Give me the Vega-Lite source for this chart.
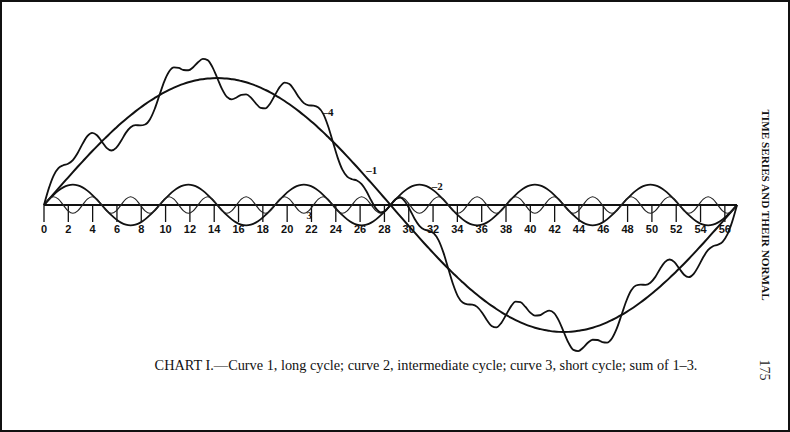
{
  "$schema": "https://vega.github.io/schema/vega-lite/v6.json",
  "width": 790,
  "height": 432,
  "autosize": {"type": "none"},
  "padding": 0,
  "background": "white",
  "config": {"view": {"stroke": "#111", "strokeWidth": 4}},
  "datasets": {
    "curves": [
      {"x":0,"c1":0,"c2":0,"c3":0,"s":0},
      {"x":0.396,"c1":4.4,"c2":4.14,"c3":4.6,"s":13.1},
      {"x":0.792,"c1":8.7,"c2":8,"c3":6.5,"s":23.2},
      {"x":1.188,"c1":13.1,"c2":11.31,"c3":4.6,"s":29.0},
      {"x":1.583,"c1":17.4,"c2":13.86,"c3":0,"s":31.3},
      {"x":1.979,"c1":21.6,"c2":15.45,"c3":-4.6,"s":32.5},
      {"x":2.375,"c1":25.9,"c2":16,"c3":-6.5,"s":35.4},
      {"x":2.771,"c1":30.1,"c2":15.45,"c3":-4.6,"s":41.0},
      {"x":3.167,"c1":34.2,"c2":13.86,"c3":0,"s":48.1},
      {"x":3.563,"c1":38.3,"c2":11.31,"c3":4.6,"s":54.2},
      {"x":3.958,"c1":42.3,"c2":8,"c3":6.5,"s":56.8},
      {"x":4.354,"c1":46.2,"c2":4.14,"c3":4.6,"s":54.9},
      {"x":4.75,"c1":50,"c2":0,"c3":0,"s":50},
      {"x":5.146,"c1":53.7,"c2":-4.14,"c3":-4.6,"s":45.0},
      {"x":5.542,"c1":57.4,"c2":-8,"c3":-6.5,"s":42.9},
      {"x":5.938,"c1":60.9,"c2":-11.31,"c3":-4.6,"s":45.0},
      {"x":6.333,"c1":64.3,"c2":-13.86,"c3":0,"s":50.4},
      {"x":6.729,"c1":67.6,"c2":-15.45,"c3":4.6,"s":56.8},
      {"x":7.125,"c1":70.7,"c2":-16,"c3":6.5,"s":61.2},
      {"x":7.521,"c1":73.7,"c2":-15.45,"c3":4.6,"s":62.9},
      {"x":7.917,"c1":76.6,"c2":-13.86,"c3":0,"s":62.7},
      {"x":8.313,"c1":79.3,"c2":-11.31,"c3":-4.6,"s":63.4},
      {"x":8.708,"c1":81.9,"c2":-8,"c3":-6.5,"s":67.4},
      {"x":9.104,"c1":84.3,"c2":-4.14,"c3":-4.6,"s":75.6},
      {"x":9.5,"c1":86.6,"c2":0,"c3":0,"s":86.6},
      {"x":9.896,"c1":88.7,"c2":4.14,"c3":4.6,"s":97.4},
      {"x":10.292,"c1":90.6,"c2":8,"c3":6.5,"s":105.1},
      {"x":10.688,"c1":92.4,"c2":11.31,"c3":4.6,"s":108.3},
      {"x":11.083,"c1":94.0,"c2":13.86,"c3":0,"s":107.9},
      {"x":11.479,"c1":95.4,"c2":15.45,"c3":-4.6,"s":106.3},
      {"x":11.875,"c1":96.6,"c2":16,"c3":-6.5,"s":106.1},
      {"x":12.271,"c1":97.6,"c2":15.45,"c3":-4.6,"s":108.5},
      {"x":12.667,"c1":98.5,"c2":13.86,"c3":0,"s":112.4},
      {"x":13.063,"c1":99.1,"c2":11.31,"c3":4.6,"s":115.0},
      {"x":13.458,"c1":99.6,"c2":8,"c3":6.5,"s":114.1},
      {"x":13.854,"c1":99.9,"c2":4.14,"c3":4.6,"s":108.6},
      {"x":14.25,"c1":100,"c2":0,"c3":0,"s":100},
      {"x":14.646,"c1":99.9,"c2":-4.14,"c3":-4.6,"s":91.2},
      {"x":15.042,"c1":99.6,"c2":-8,"c3":-6.5,"s":85.1},
      {"x":15.438,"c1":99.1,"c2":-11.31,"c3":-4.6,"s":83.2},
      {"x":15.833,"c1":98.5,"c2":-13.86,"c3":0,"s":84.6},
      {"x":16.229,"c1":97.6,"c2":-15.45,"c3":4.6,"s":86.8},
      {"x":16.625,"c1":96.6,"c2":-16,"c3":6.5,"s":87.1},
      {"x":17.021,"c1":95.4,"c2":-15.45,"c3":4.6,"s":84.6},
      {"x":17.417,"c1":94.0,"c2":-13.86,"c3":0,"s":80.1},
      {"x":17.813,"c1":92.4,"c2":-11.31,"c3":-4.6,"s":76.5},
      {"x":18.208,"c1":90.6,"c2":-8,"c3":-6.5,"s":76.1},
      {"x":18.604,"c1":88.7,"c2":-4.14,"c3":-4.6,"s":80.0},
      {"x":19,"c1":86.6,"c2":0,"c3":0,"s":86.6},
      {"x":19.396,"c1":84.3,"c2":4.14,"c3":4.6,"s":93.0},
      {"x":19.792,"c1":81.9,"c2":8,"c3":6.5,"s":96.4},
      {"x":20.188,"c1":79.3,"c2":11.31,"c3":4.6,"s":95.2},
      {"x":20.583,"c1":76.6,"c2":13.86,"c3":0,"s":90.5},
      {"x":20.979,"c1":73.7,"c2":15.45,"c3":-4.6,"s":84.6},
      {"x":21.375,"c1":70.7,"c2":16,"c3":-6.5,"s":80.2},
      {"x":21.771,"c1":67.6,"c2":15.45,"c3":-4.6,"s":78.5},
      {"x":22.167,"c1":64.3,"c2":13.86,"c3":0,"s":78.2},
      {"x":22.563,"c1":60.9,"c2":11.31,"c3":4.6,"s":76.8},
      {"x":22.958,"c1":57.4,"c2":8,"c3":6.5,"s":71.9},
      {"x":23.354,"c1":53.7,"c2":4.14,"c3":4.6,"s":62.4},
      {"x":23.75,"c1":50,"c2":0,"c3":0,"s":50},
      {"x":24.146,"c1":46.2,"c2":-4.14,"c3":-4.6,"s":37.5},
      {"x":24.542,"c1":42.3,"c2":-8,"c3":-6.5,"s":27.8},
      {"x":24.938,"c1":38.3,"c2":-11.31,"c3":-4.6,"s":22.4},
      {"x":25.333,"c1":34.2,"c2":-13.86,"c3":0,"s":20.3},
      {"x":25.729,"c1":30.1,"c2":-15.45,"c3":4.6,"s":19.3},
      {"x":26.125,"c1":25.9,"c2":-16,"c3":6.5,"s":16.4},
      {"x":26.521,"c1":21.6,"c2":-15.45,"c3":4.6,"s":10.8},
      {"x":26.917,"c1":17.4,"c2":-13.86,"c3":0,"s":3.5},
      {"x":27.313,"c1":13.1,"c2":-11.31,"c3":-4.6,"s":-2.8},
      {"x":27.708,"c1":8.7,"c2":-8,"c3":-6.5,"s":-5.8},
      {"x":28.104,"c1":4.4,"c2":-4.14,"c3":-4.6,"s":-4.3},
      {"x":28.5,"c1":0,"c2":0,"c3":0,"s":0},
      {"x":28.896,"c1":-4.4,"c2":4.14,"c3":4.6,"s":4.3},
      {"x":29.292,"c1":-8.7,"c2":8,"c3":6.5,"s":5.8},
      {"x":29.688,"c1":-13.1,"c2":11.31,"c3":4.6,"s":2.8},
      {"x":30.083,"c1":-17.4,"c2":13.86,"c3":0,"s":-3.5},
      {"x":30.479,"c1":-21.6,"c2":15.45,"c3":-4.6,"s":-10.8},
      {"x":30.875,"c1":-25.9,"c2":16,"c3":-6.5,"s":-16.4},
      {"x":31.271,"c1":-30.1,"c2":15.45,"c3":-4.6,"s":-19.3},
      {"x":31.667,"c1":-34.2,"c2":13.86,"c3":0,"s":-20.3},
      {"x":32.063,"c1":-38.3,"c2":11.31,"c3":4.6,"s":-22.4},
      {"x":32.458,"c1":-42.3,"c2":8,"c3":6.5,"s":-27.8},
      {"x":32.854,"c1":-46.2,"c2":4.14,"c3":4.6,"s":-37.5},
      {"x":33.25,"c1":-50,"c2":0,"c3":0,"s":-50},
      {"x":33.646,"c1":-53.7,"c2":-4.14,"c3":-4.6,"s":-62.4},
      {"x":34.042,"c1":-57.4,"c2":-8,"c3":-6.5,"s":-71.9},
      {"x":34.438,"c1":-60.9,"c2":-11.31,"c3":-4.6,"s":-76.8},
      {"x":34.833,"c1":-64.3,"c2":-13.86,"c3":0,"s":-78.2},
      {"x":35.229,"c1":-67.6,"c2":-15.45,"c3":4.6,"s":-78.5},
      {"x":35.625,"c1":-70.7,"c2":-16,"c3":6.5,"s":-80.2},
      {"x":36.021,"c1":-73.7,"c2":-15.45,"c3":4.6,"s":-84.6},
      {"x":36.417,"c1":-76.6,"c2":-13.86,"c3":0,"s":-90.5},
      {"x":36.813,"c1":-79.3,"c2":-11.31,"c3":-4.6,"s":-95.2},
      {"x":37.208,"c1":-81.9,"c2":-8,"c3":-6.5,"s":-96.4},
      {"x":37.604,"c1":-84.3,"c2":-4.14,"c3":-4.6,"s":-93.0},
      {"x":38,"c1":-86.6,"c2":0,"c3":0,"s":-86.6},
      {"x":38.396,"c1":-88.7,"c2":4.14,"c3":4.6,"s":-80.0},
      {"x":38.792,"c1":-90.6,"c2":8,"c3":6.5,"s":-76.1},
      {"x":39.188,"c1":-92.4,"c2":11.31,"c3":4.6,"s":-76.5},
      {"x":39.583,"c1":-94.0,"c2":13.86,"c3":0,"s":-80.1},
      {"x":39.979,"c1":-95.4,"c2":15.45,"c3":-4.6,"s":-84.6},
      {"x":40.375,"c1":-96.6,"c2":16,"c3":-6.5,"s":-87.1},
      {"x":40.771,"c1":-97.6,"c2":15.45,"c3":-4.6,"s":-86.8},
      {"x":41.167,"c1":-98.5,"c2":13.86,"c3":0,"s":-84.6},
      {"x":41.563,"c1":-99.1,"c2":11.31,"c3":4.6,"s":-83.2},
      {"x":41.958,"c1":-99.6,"c2":8,"c3":6.5,"s":-85.1},
      {"x":42.354,"c1":-99.9,"c2":4.14,"c3":4.6,"s":-91.2},
      {"x":42.75,"c1":-100,"c2":0,"c3":0,"s":-100},
      {"x":43.146,"c1":-99.9,"c2":-4.14,"c3":-4.6,"s":-108.6},
      {"x":43.542,"c1":-99.6,"c2":-8,"c3":-6.5,"s":-114.1},
      {"x":43.938,"c1":-99.1,"c2":-11.31,"c3":-4.6,"s":-115.0},
      {"x":44.333,"c1":-98.5,"c2":-13.86,"c3":0,"s":-112.4},
      {"x":44.729,"c1":-97.6,"c2":-15.45,"c3":4.6,"s":-108.5},
      {"x":45.125,"c1":-96.6,"c2":-16,"c3":6.5,"s":-106.1},
      {"x":45.521,"c1":-95.4,"c2":-15.45,"c3":4.6,"s":-106.3},
      {"x":45.917,"c1":-94.0,"c2":-13.86,"c3":0,"s":-107.9},
      {"x":46.313,"c1":-92.4,"c2":-11.31,"c3":-4.6,"s":-108.3},
      {"x":46.708,"c1":-90.6,"c2":-8,"c3":-6.5,"s":-105.1},
      {"x":47.104,"c1":-88.7,"c2":-4.14,"c3":-4.6,"s":-97.4},
      {"x":47.5,"c1":-86.6,"c2":0,"c3":0,"s":-86.6},
      {"x":47.896,"c1":-84.3,"c2":4.14,"c3":4.6,"s":-75.6},
      {"x":48.292,"c1":-81.9,"c2":8,"c3":6.5,"s":-67.4},
      {"x":48.688,"c1":-79.3,"c2":11.31,"c3":4.6,"s":-63.4},
      {"x":49.083,"c1":-76.6,"c2":13.86,"c3":0,"s":-62.7},
      {"x":49.479,"c1":-73.7,"c2":15.45,"c3":-4.6,"s":-62.9},
      {"x":49.875,"c1":-70.7,"c2":16,"c3":-6.5,"s":-61.2},
      {"x":50.271,"c1":-67.6,"c2":15.45,"c3":-4.6,"s":-56.8},
      {"x":50.667,"c1":-64.3,"c2":13.86,"c3":0,"s":-50.4},
      {"x":51.063,"c1":-60.9,"c2":11.31,"c3":4.6,"s":-45.0},
      {"x":51.458,"c1":-57.4,"c2":8,"c3":6.5,"s":-42.9},
      {"x":51.854,"c1":-53.7,"c2":4.14,"c3":4.6,"s":-45.0},
      {"x":52.25,"c1":-50,"c2":0,"c3":0,"s":-50},
      {"x":52.646,"c1":-46.2,"c2":-4.14,"c3":-4.6,"s":-54.9},
      {"x":53.042,"c1":-42.3,"c2":-8,"c3":-6.5,"s":-56.8},
      {"x":53.438,"c1":-38.3,"c2":-11.31,"c3":-4.6,"s":-54.2},
      {"x":53.833,"c1":-34.2,"c2":-13.86,"c3":0,"s":-48.1},
      {"x":54.229,"c1":-30.1,"c2":-15.45,"c3":4.6,"s":-41.0},
      {"x":54.625,"c1":-25.9,"c2":-16,"c3":6.5,"s":-35.4},
      {"x":55.021,"c1":-21.6,"c2":-15.45,"c3":4.6,"s":-32.5},
      {"x":55.417,"c1":-17.4,"c2":-13.86,"c3":0,"s":-31.3},
      {"x":55.813,"c1":-13.1,"c2":-11.31,"c3":-4.6,"s":-29.0},
      {"x":56.208,"c1":-8.7,"c2":-8,"c3":-6.5,"s":-23.2},
      {"x":56.604,"c1":-4.4,"c2":-4.14,"c3":-4.6,"s":-13.1},
      {"x":57,"c1":0,"c2":0,"c3":0,"s":0}
    ],
    "ticks": [
      {"t":0},{"t":2},{"t":4},{"t":6},{"t":8},{"t":10},{"t":12},{"t":14},{"t":16},{"t":18},
      {"t":20},{"t":22},{"t":24},{"t":26},{"t":28},{"t":30},{"t":32},{"t":34},{"t":36},{"t":38},
      {"t":40},{"t":42},{"t":44},{"t":46},{"t":48},{"t":50},{"t":52},{"t":54},{"t":56}
    ],
    "labels": [
      {"lab":"–1","lx":26.5,"ly":26.8},
      {"lab":"–2","lx":31.9,"ly":14.2},
      {"lab":"3","lx":21.6,"ly":-8.7},
      {"lab":"–4","lx":22.9,"ly":72.4}
    ]
  },
  "layer": [
    {
      "data": {"name": "ticks"},
      "mark": {"type": "rule", "color": "#111", "strokeWidth": 1.3},
      "encoding": {
        "x": {"field": "t", "type": "quantitative", "scale": {"domain": [-3.619, 61.358], "nice": false, "zero": false}, "axis": null},
        "y": {"datum": 0, "type": "quantitative", "scale": {"domain": [-178.74, 161.42], "nice": false, "zero": false}, "axis": null},
        "y2": {"datum": -13.4}
      }
    },
    {
      "data": {"name": "ticks"},
      "mark": {"type": "text", "font": "Liberation Sans", "fontWeight": "bold", "fontSize": 11, "color": "#111", "align": "center", "baseline": "top"},
      "encoding": {
        "x": {"field": "t", "type": "quantitative", "scale": {"domain": [-3.619, 61.358], "nice": false, "zero": false}, "axis": null},
        "y": {"datum": -14.6, "type": "quantitative", "scale": {"domain": [-178.74, 161.42], "nice": false, "zero": false}, "axis": null},
        "text": {"field": "t", "type": "quantitative"}
      }
    },
    {
      "data": {"values": [{}]},
      "mark": {"type": "rule", "color": "#111", "strokeWidth": 2},
      "encoding": {
        "x": {"datum": 0, "type": "quantitative", "scale": {"domain": [-3.619, 61.358], "nice": false, "zero": false}, "axis": null},
        "x2": {"datum": 57},
        "y": {"datum": 0, "type": "quantitative", "scale": {"domain": [-178.74, 161.42], "nice": false, "zero": false}, "axis": null}
      }
    },
    {
      "data": {"name": "curves"},
      "mark": {"type": "line", "color": "#111", "strokeWidth": 2, "interpolate": "monotone"},
      "encoding": {
        "x": {"field": "x", "type": "quantitative", "scale": {"domain": [-3.619, 61.358], "nice": false, "zero": false}, "axis": null},
        "y": {"field": "c1", "type": "quantitative", "scale": {"domain": [-178.74, 161.42], "nice": false, "zero": false}, "axis": null}
      }
    },
    {
      "data": {"name": "curves"},
      "mark": {"type": "line", "color": "#111", "strokeWidth": 1.8, "interpolate": "monotone"},
      "encoding": {
        "x": {"field": "x", "type": "quantitative", "scale": {"domain": [-3.619, 61.358], "nice": false, "zero": false}, "axis": null},
        "y": {"field": "c2", "type": "quantitative", "scale": {"domain": [-178.74, 161.42], "nice": false, "zero": false}, "axis": null}
      }
    },
    {
      "data": {"name": "curves"},
      "mark": {"type": "line", "color": "#222", "strokeWidth": 1.2, "interpolate": "monotone"},
      "encoding": {
        "x": {"field": "x", "type": "quantitative", "scale": {"domain": [-3.619, 61.358], "nice": false, "zero": false}, "axis": null},
        "y": {"field": "c3", "type": "quantitative", "scale": {"domain": [-178.74, 161.42], "nice": false, "zero": false}, "axis": null}
      }
    },
    {
      "data": {"name": "curves"},
      "mark": {"type": "line", "color": "#111", "strokeWidth": 1.8, "interpolate": "monotone"},
      "encoding": {
        "x": {"field": "x", "type": "quantitative", "scale": {"domain": [-3.619, 61.358], "nice": false, "zero": false}, "axis": null},
        "y": {"field": "s", "type": "quantitative", "scale": {"domain": [-178.74, 161.42], "nice": false, "zero": false}, "axis": null}
      }
    },
    {
      "data": {"name": "labels"},
      "mark": {"type": "text", "font": "Liberation Serif", "fontWeight": "bold", "fontSize": 11, "color": "#111", "align": "left", "baseline": "middle"},
      "encoding": {
        "x": {"field": "lx", "type": "quantitative", "scale": {"domain": [-3.619, 61.358], "nice": false, "zero": false}, "axis": null},
        "y": {"field": "ly", "type": "quantitative", "scale": {"domain": [-178.74, 161.42], "nice": false, "zero": false}, "axis": null},
        "text": {"field": "lab"}
      }
    },
    {
      "data": {"values": [{}]},
      "mark": {"type": "text", "font": "Liberation Serif", "fontSize": 14.3, "color": "#111", "align": "center", "baseline": "middle",
        "text": "CHART I.—Curve 1, long cycle; curve 2, intermediate cycle; curve 3, short cycle; sum of 1–3."},
      "encoding": {
        "x": {"datum": 31.42, "type": "quantitative", "scale": {"domain": [-3.619, 61.358], "nice": false, "zero": false}, "axis": null},
        "y": {"datum": -126.8, "type": "quantitative", "scale": {"domain": [-178.74, 161.42], "nice": false, "zero": false}, "axis": null}
      }
    },
    {
      "data": {"values": [{}]},
      "mark": {"type": "text", "font": "Liberation Serif", "fontWeight": "bold", "fontSize": 11.2, "color": "#111", "align": "center", "baseline": "middle", "angle": 90,
        "text": "TIME SERIES AND THEIR NORMAL"},
      "encoding": {
        "x": {"datum": 59.3, "type": "quantitative", "scale": {"domain": [-3.619, 61.358], "nice": false, "zero": false}, "axis": null},
        "y": {"datum": 0, "type": "quantitative", "scale": {"domain": [-178.74, 161.42], "nice": false, "zero": false}, "axis": null}
      }
    },
    {
      "data": {"values": [{}]},
      "mark": {"type": "text", "font": "Liberation Serif", "fontSize": 14, "color": "#222", "align": "center", "baseline": "middle", "angle": 90,
        "text": "175"},
      "encoding": {
        "x": {"datum": 59.2, "type": "quantitative", "scale": {"domain": [-3.619, 61.358], "nice": false, "zero": false}, "axis": null},
        "y": {"datum": -129.9, "type": "quantitative", "scale": {"domain": [-178.74, 161.42], "nice": false, "zero": false}, "axis": null}
      }
    }
  ]
}
